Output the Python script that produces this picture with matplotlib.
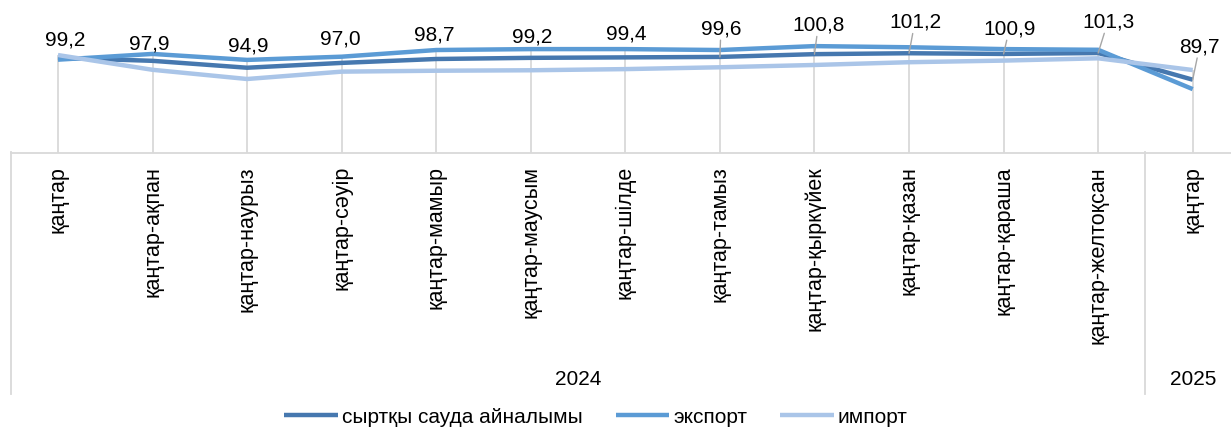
import matplotlib
matplotlib.use("Agg")
import matplotlib.pyplot as plt
from matplotlib.lines import Line2D
from matplotlib.transforms import blended_transform_factory

plt.rcParams['font.family'] = ['Liberation Sans', 'DejaVu Sans']

# Деректер
categories = ['қаңтар', 'қаңтар-ақпан', 'қаңтар-наурыз', 'қаңтар-сәуір',
              'қаңтар-мамыр', 'қаңтар-маусым', 'қаңтар-шілде', 'қаңтар-тамыз',
              'қаңтар-қыркүйек', 'қаңтар-қазан', 'қаңтар-қараша',
              'қаңтар-желтоқсан', 'қаңтар']
years = ['2024', '2025']
year_sizes = [12, 1]

turnover = [99.2, 97.9, 94.9, 97.0, 98.7, 99.2, 99.4, 99.6, 100.8, 101.2, 100.9, 101.3, 89.7]
export = [98.4, 100.9, 98.3, 99.7, 102.6, 103.0, 103.0, 102.6, 104.3, 103.8, 103.0, 102.7, 85.6]
imports = [100.4, 94.0, 90.0, 93.2, 93.6, 93.8, 94.3, 95.1, 96.1, 97.3, 98.0, 99.0, 93.9]

series_names = ['сыртқы сауда айналымы', 'экспорт', 'импорт']
colors = ['#4678AF', '#5B9BD5', '#AAC5E8']

# Жазулардың ығысуы (пиксель) және сілтеме сызықтары
label_offsets = [(7, 19), (-3, 18), (1, 23), (-1, 25), (-2, 25), (1, 22), (1, 24),
                 (1, 29), (4, 30), (6, 32), (6, 26), (10, 32), (7, 34)]
leader = [False] * 7 + [True] * 6

W, H = 1231, 431
fig = plt.figure(figsize=(W / 100, H / 100), dpi=100)

left_px, step = 10.7, 94.56
bottom_px, top_px = 153.6, 22.5
ax = fig.add_axes([left_px / W, 1 - bottom_px / H,
                   13 * step / W, (bottom_px - top_px) / H])

x = list(range(len(categories)))
for name, vals, c in zip(series_names, [turnover, export, imports], colors):
    ax.plot(x, vals, color=c, lw=3.2, label=name, solid_capstyle='butt', zorder=3)

ax.set_xlim(-0.5, len(categories) - 0.5)
ax.set_ylim(58, 115)

# Түсіру сызықтары
tops = [max(a, b, c) for a, b, c in zip(turnover, export, imports)]
ax.vlines(x, 58, tops, color='#D9D9D9', lw=1.3, zorder=1)

for s in ['top', 'right', 'left']:
    ax.spines[s].set_visible(False)
ax.spines['bottom'].set_color('#D9D9D9')
ax.spines['bottom'].set_linewidth(1.3)
ax.set_yticks([])
ax.set_xticks(x)
ax.set_xticklabels(categories, rotation=90, fontsize=15.5)
ax.tick_params(axis='x', length=0, pad=9)

for i, v in enumerate(turnover):
    dx, dy = label_offsets[i]
    props = dict(arrowstyle='-', color='#A6A6A6', lw=1.0, shrinkA=0, shrinkB=0) if leader[i] else None
    ax.annotate(f"{v:.1f}".replace('.', ','), (i, v), xytext=(dx, dy),
                textcoords='offset pixels', ha='center', va='center',
                fontsize=15, arrowprops=props, zorder=5)

# Жылдар деңгейі
tr = blended_transform_factory(ax.transData, fig.transFigure)
start = 0
for yr, n in zip(years, year_sizes):
    ax.text(start + (n - 1) / 2, 1 - 380 / H, yr, transform=tr,
            ha='center', va='center', fontsize=15)
    start += n
for xs in [-0.5, 11.5]:
    fig.add_artist(Line2D([xs, xs], [1 - 153 / H, 1 - 395 / H], transform=tr,
                          color='#D9D9D9', lw=1.3))

fig.legend(loc='center', bbox_to_anchor=(596 / W, 1 - 418 / H), ncol=3,
           frameon=False, fontsize=15, handlelength=2.55, handletextpad=0.2,
           columnspacing=1.6)

fig.savefig('out.png', dpi=100)
